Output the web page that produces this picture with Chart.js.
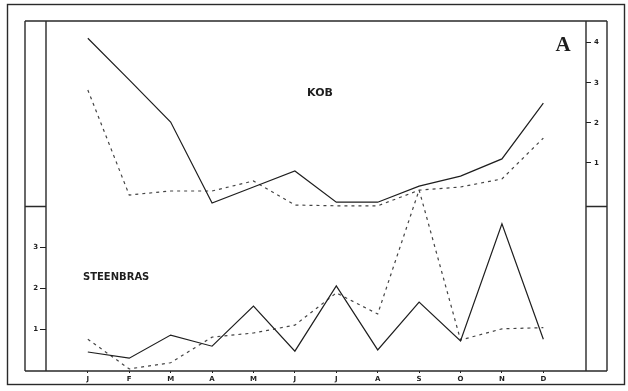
<!DOCTYPE html>
<html>
<head>
<meta charset="utf-8">
<script src="https://cdn.jsdelivr.net/npm/chart.js@4.4.1/dist/chart.umd.min.js"></script>
<style>
  html, body { margin: 0; padding: 0; background: #fff; }
  #wrap { width: 628px; height: 391px; }
</style>
</head>
<body>
<div id="wrap"><canvas id="c" width="628" height="391"></canvas></div>
<script>
// Months along the bottom axis
const months = ['J', 'F', 'M', 'A', 'M', 'J', 'J', 'A', 'S', 'O', 'N', 'D'];

// Kob (right-hand scale)
const kobSolid  = [4.11, 3.07, 2.02, 0.00, 0.40, 0.80, 0.02, 0.02, 0.42, 0.67, 1.10, 2.49];
const kobDashed = [2.82, 0.20, 0.30, 0.30, 0.55, -0.05, -0.07, -0.07, 0.32, 0.40, 0.60, 1.62];

// Steenbras (left-hand scale)
const steenSolid  = [0.46, 0.31, 0.87, 0.60, 1.57, 0.48, 2.06, 0.51, 1.67, 0.73, 3.56, 0.77];
const steenDashed = [0.77, 0.05, 0.20, 0.82, 0.92, 1.11, 1.89, 1.38, 4.38, 0.75, 1.02, 1.05];

// Tick values shown on each vertical scale
const steenTicks = [1, 2, 3];
const kobTicks = [1, 2, 3, 4];

const toPoints = arr => arr.map((v, i) => ({ x: i, y: v }));
const ink = '#1e1e1e';
const dashInk = '#444';

// Frame boxes, panel dividers and the panel captions
const framePlugin = {
  id: 'frame',
  afterDraw(chart) {
    const { ctx, chartArea: a, scales } = chart;
    const yL = scales.yL;
    const outerL = 25, outerR = 607;
    ctx.save();
    ctx.strokeStyle = '#2a2a2a';
    ctx.lineWidth = 1.4;
    // outer border
    ctx.strokeRect(7.5, 4.5, 617, 380);
    // inner frame
    ctx.beginPath();
    ctx.moveTo(outerL, a.top); ctx.lineTo(outerR, a.top);
    ctx.moveTo(outerL, a.bottom); ctx.lineTo(outerR, a.bottom);
    ctx.moveTo(outerL, a.top); ctx.lineTo(outerL, a.bottom);
    ctx.moveTo(a.left, a.top); ctx.lineTo(a.left, a.bottom);
    ctx.moveTo(a.right, a.top); ctx.lineTo(a.right, a.bottom);
    ctx.moveTo(outerR, a.top); ctx.lineTo(outerR, a.bottom);
    // divider between the two panels, in the side strips
    const yd = Math.round(yL.getPixelForValue(4)) + 0.5;
    ctx.moveTo(outerL, yd); ctx.lineTo(a.left, yd);
    ctx.moveTo(a.right, yd); ctx.lineTo(outerR, yd);
    ctx.stroke();

    // captions
    ctx.fillStyle = ink;
    ctx.textBaseline = 'middle';
    ctx.font = 'bold 11px "DejaVu Sans", sans-serif';
    ctx.textAlign = 'center';
    ctx.fillText('KOB', 320, 93);
    ctx.font = 'bold 10px "DejaVu Sans", sans-serif';
    ctx.textAlign = 'left';
    ctx.fillText('STEENBRAS', 83, 277);
    ctx.font = 'bold 21px "Liberation Serif", serif';
    ctx.textAlign = 'center';
    ctx.fillText('A', 563, 46);
    ctx.restore();
  }
};

const tickFont = { family: 'DejaVu Sans', size: 7, weight: 'bold' };

new Chart(document.getElementById('c'), {
  type: 'line',
  data: {
    datasets: [
      { label: 'Kob', data: toPoints(kobSolid), yAxisID: 'yR',
        borderColor: ink, borderWidth: 1.2 },
      { label: 'Kob', data: toPoints(kobDashed), yAxisID: 'yR',
        borderColor: dashInk, borderWidth: 1.2, borderDash: [3, 4] },
      { label: 'Steenbras', data: toPoints(steenSolid), yAxisID: 'yL',
        borderColor: ink, borderWidth: 1.2 },
      { label: 'Steenbras', data: toPoints(steenDashed), yAxisID: 'yL',
        borderColor: dashInk, borderWidth: 1.2, borderDash: [3, 4] }
    ]
  },
  options: {
    responsive: false,
    animation: false,
    devicePixelRatio: 1,
    layout: { padding: { top: 21, left: 0, right: 0, bottom: 0 } },
    elements: { point: { radius: 0 }, line: { tension: 0 } },
    plugins: { legend: { display: false }, tooltip: { enabled: false } },
    scales: {
      x: {
        type: 'linear', min: -1.01, max: 12.03,
        afterBuildTicks: s => { s.ticks = months.map((m, i) => ({ value: i })); },
        afterFit: s => { s.height = 20; },
        grid: { drawOnChartArea: false, drawTicks: true, tickLength: 2, color: ink },
        border: { display: false },
        ticks: { font: tickFont, color: ink, padding: 2, maxRotation: 0,
                 autoSkip: false, callback: v => months[v] ?? '' }
      },
      yL: {
        type: 'linear', position: 'left', min: 0, max: 8.47,
        afterBuildTicks: s => { s.ticks = steenTicks.map(v => ({ value: v })); },
        afterFit: s => { s.width = 46; },
        grid: { drawOnChartArea: false, drawTicks: true, tickLength: 6, color: ink },
        border: { display: false },
        ticks: { font: tickFont, color: ink, padding: 2 }
      },
      yR: {
        type: 'linear', position: 'right', min: -4.19, max: 4.54,
        afterBuildTicks: s => { s.ticks = kobTicks.map(v => ({ value: v })); },
        afterFit: s => { s.width = 42; },
        grid: { drawOnChartArea: false, drawTicks: true, tickLength: 5, color: ink },
        border: { display: false },
        ticks: { font: tickFont, color: ink, padding: 3 }
      }
    }
  },
  plugins: [framePlugin]
});
</script>
</body>
</html>
